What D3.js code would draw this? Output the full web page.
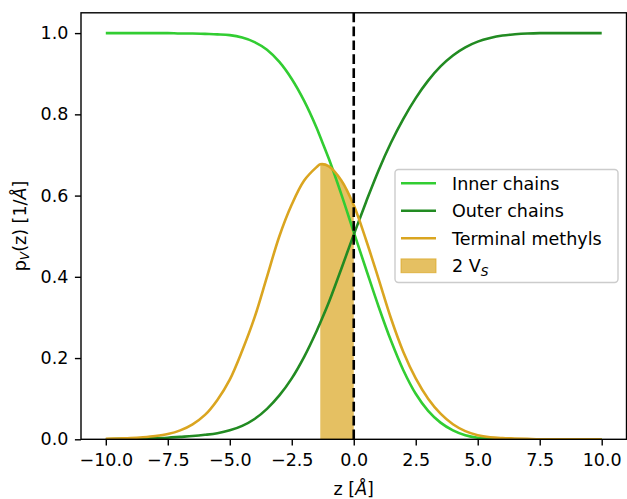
<!DOCTYPE html>
<html>
<head>
<meta charset="utf-8">
<script src="https://cdn.jsdelivr.net/npm/d3@7"></script>
<style>
  html, body { margin: 0; padding: 0; background: #fff; }
  svg { display: block; font-family: "DejaVu Sans", sans-serif; }
</style>
</head>
<body>
<svg id="chart" width="627" height="499"></svg>
<script>
// Position along the bilayer normal, z in Å
const zValues = [-10, -9.5, -9, -8.5, -8, -7.5, -7, -6.5, -6, -5.5, -5, -4.5, -4, -3.5, -3, -2.5, -2, -1.5, -1.35,
  -1, -0.5, 0, 0.5, 1, 1.5, 2, 2.5, 3, 3.5, 4, 4.5, 5, 5.5, 6, 6.5, 7, 7.5, 8, 8.5, 9, 9.5, 10];

// Probability profiles p_V(z)
const innerChains = [1, 1, 1, 1, 1, 1, 0.999, 0.999, 0.998, 0.997, 0.995, 0.989, 0.978, 0.959, 0.929, 0.887, 0.833, 0.767, 0.744,
  0.690, 0.603, 0.510, 0.418, 0.327, 0.243, 0.170, 0.112, 0.070, 0.041, 0.022, 0.010, 0.004, 0.002, 0.001, 0, 0, 0, 0, 0, 0, 0, 0];
const outerChains = [0, 0.001, 0.001, 0.002, 0.003, 0.004, 0.006, 0.008, 0.011, 0.015, 0.022, 0.033, 0.050, 0.075, 0.108, 0.150, 0.203, 0.266, 0.287,
  0.338, 0.420, 0.504, 0.585, 0.662, 0.730, 0.789, 0.840, 0.883, 0.918, 0.945, 0.965, 0.979, 0.988, 0.994, 0.997, 0.999, 1, 1, 1, 1, 1, 1];
const terminalMethyls = [0.001, 0.002, 0.003, 0.005, 0.008, 0.013, 0.022, 0.037, 0.06, 0.097, 0.147, 0.218, 0.300, 0.400, 0.500, 0.578, 0.637, 0.670, 0.677,
  0.672, 0.637, 0.576, 0.490, 0.395, 0.298, 0.215, 0.150, 0.100, 0.063, 0.037, 0.020, 0.010, 0.005, 0.003, 0.002, 0.001, 0, 0, 0, 0, 0, 0];

// Shaded 2 V_S band: from the methyl peak to the interface
const shadeRange = [-1.35, 0];

const xTicks = [-10, -7.5, -5, -2.5, 0, 2.5, 5, 7.5, 10];
const yTicks = [0, 0.2, 0.4, 0.6, 0.8, 1.0];

const seriesNames = ["Inner chains", "Outer chains", "Terminal methyls"];
const seriesColors = ["#32cd32", "#228b22", "#daa520"];

const svg = d3.select("#chart");
const plotL = 81, plotR = 626.5, plotT = 12.8, plotB = 439.3;
const fontSize = 17.5;
const lw = 2.6;

const x = d3.scaleLinear().domain([-11, 11]).range([plotL, plotR]);
const y = d3.scaleLinear().domain([0, 1.05]).range([plotB, plotT]);

const fmt = v => d3.format(".1f")(v).replace("-", "\u2212");
const curve = d3.curveCatmullRom.alpha(0.5);

// clip to plotting area
const defs = svg.append("defs");
defs.append("clipPath").attr("id", "plotArea")
  .append("rect").attr("x", plotL).attr("y", plotT).attr("width", plotR - plotL).attr("height", plotB - plotT);
defs.append("clipPath").attr("id", "shadeClip")
  .append("rect").attr("x", x(shadeRange[0])).attr("y", plotT)
  .attr("width", x(shadeRange[1]) - x(shadeRange[0])).attr("height", plotB - plotT);

const plot = svg.append("g").attr("clip-path", "url(#plotArea)");

// shaded band under the terminal methyl profile
const methylPts = zValues.map((z, i) => [z, terminalMethyls[i]]);
const area = d3.area().x(d => x(d[0])).y0(y(0)).y1(d => y(d[1])).curve(curve);
plot.append("g").attr("clip-path", "url(#shadeClip)")
  .append("path").attr("d", area(methylPts))
  .attr("fill", "#daa520").attr("fill-opacity", 0.7)
  .attr("stroke", "#daa520").attr("stroke-opacity", 0.7).attr("stroke-width", 1);

// profiles
const line = d3.line().x(d => x(d[0])).y(d => y(d[1])).curve(curve);
[innerChains, outerChains, terminalMethyls].forEach((vals, k) => {
  plot.append("path")
    .attr("d", line(zValues.map((z, i) => [z, vals[i]])))
    .attr("fill", "none")
    .attr("stroke", seriesColors[k])
    .attr("stroke-width", lw)
    .attr("stroke-linejoin", "round")
    .attr("stroke-linecap", "butt");
});

// interface marker at z = 0
plot.append("line")
  .attr("x1", x(0)).attr("x2", x(0)).attr("y1", plotB).attr("y2", plotT)
  .attr("stroke", "#000").attr("stroke-width", lw)
  .attr("stroke-dasharray", "9.7,4.2");

// axes
const xAxis = svg.append("g").attr("transform", `translate(0,${plotB})`)
  .call(d3.axisBottom(x).tickValues(xTicks).tickFormat(fmt).tickSize(6.1).tickPadding(7.5));
const yAxis = svg.append("g").attr("transform", `translate(${plotL},0)`)
  .call(d3.axisLeft(y).tickValues(yTicks).tickFormat(fmt).tickSize(6.1).tickPadding(6.5));
[xAxis, yAxis].forEach(g => {
  g.select(".domain").remove();
  g.selectAll(".tick line").attr("stroke", "#000").attr("stroke-width", 1.4);
  g.selectAll(".tick text").attr("fill", "#000")
    .style("font-size", fontSize + "px").style("font-family", "DejaVu Sans");
});
xAxis.selectAll(".tick text").attr("dy", "0.76em");

// frame
svg.append("rect")
  .attr("x", plotL).attr("y", plotT).attr("width", plotR - plotL).attr("height", plotB - plotT)
  .attr("fill", "none").attr("stroke", "#000").attr("stroke-width", 1.4);

// axis labels
const xl = svg.append("text")
  .attr("x", (plotL + plotR) / 2).attr("y", 495)
  .attr("text-anchor", "middle").style("font-size", fontSize + "px");
xl.append("tspan").text("z [");
xl.append("tspan").attr("font-style", "italic").text("Å");
xl.append("tspan").text("]");

const yl = svg.append("text")
  .attr("transform", `translate(25.5,${(plotT + plotB) / 2}) rotate(-90)`)
  .attr("text-anchor", "middle").style("font-size", fontSize + "px");
yl.append("tspan").text("p");
yl.append("tspan").attr("font-style", "italic").attr("font-size", fontSize * 0.7 + "px").attr("dy", 3.5).text("V");
yl.append("tspan").attr("dy", -3.5).text("(z) [1/");
yl.append("tspan").attr("font-style", "italic").text("Å");
yl.append("tspan").text("]");

// legend
const lg = svg.append("g");
lg.append("rect")
  .attr("x", 395).attr("y", 169.5).attr("width", 223).attr("height", 113)
  .attr("rx", 3.5).attr("ry", 3.5)
  .attr("fill", "#fff").attr("fill-opacity", 0.8)
  .attr("stroke", "#cccccc").attr("stroke-width", 1.4);
const rowY = [183.3, 210.8, 238.3, 265.8];
seriesNames.forEach((name, k) => {
  lg.append("line").attr("x1", 401).attr("x2", 436).attr("y1", rowY[k]).attr("y2", rowY[k])
    .attr("stroke", seriesColors[k]).attr("stroke-width", lw);
  lg.append("text").attr("x", 452).attr("y", rowY[k] + 6.4)
    .style("font-size", fontSize + "px").text(name);
});
lg.append("rect").attr("x", 401).attr("y", rowY[3] - 6.9).attr("width", 35).attr("height", 13.8)
  .attr("fill", "#daa520").attr("fill-opacity", 0.7)
  .attr("stroke", "#daa520").attr("stroke-opacity", 0.7).attr("stroke-width", 1);
const vs = lg.append("text").attr("x", 452).attr("y", rowY[3] + 6.4).style("font-size", fontSize + "px");
vs.append("tspan").text("2 V");
vs.append("tspan").attr("font-style", "italic").attr("font-size", fontSize * 0.7 + "px").attr("dy", 3.5).text("S");
</script>
</body>
</html>
